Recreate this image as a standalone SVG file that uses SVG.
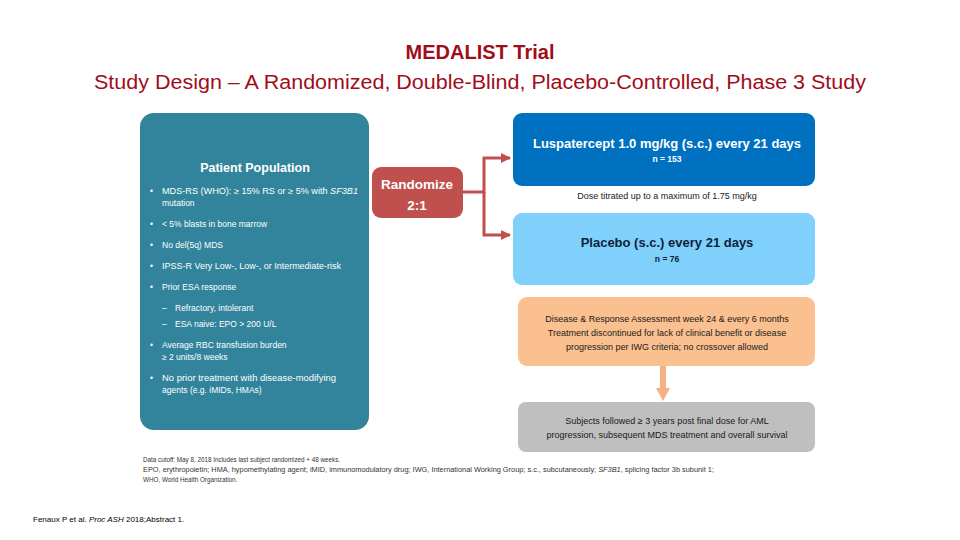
<svg xmlns="http://www.w3.org/2000/svg" width="960" height="540" viewBox="0 0 960 540">
<defs>
<style>
text{font-family:"Liberation Sans",Arial,sans-serif}
.title{fill:#A00D1A;font-size:20px}
.pp{fill:#ffffff;font-size:8.5px}
.hd{font-weight:bold;text-anchor:middle}
.sm{font-size:9px;text-anchor:middle;fill:#1a1a1a}
.fn{font-size:6.3px;fill:#333}
.conn{fill:none;stroke:#C0504D;stroke-width:3}
</style>
<marker id="ah" viewBox="0 0 10 10" refX="9" refY="5" markerWidth="3.4" markerHeight="3.4" orient="auto"><path d="M0,0 L10,5 L0,10 z" fill="#C0504D"/></marker>
</defs>
<rect width="960" height="540" fill="#ffffff"/>
<text class="title" x="480" y="59" text-anchor="middle" font-weight="bold">MEDALIST Trial</text>
<text class="title" x="480" y="89" text-anchor="middle" textLength="772" lengthAdjust="spacingAndGlyphs">Study Design – A Randomized, Double-Blind, Placebo-Controlled, Phase 3 Study</text>

<g id="patient-population">
<rect x="140" y="113" width="229" height="317" rx="14" fill="#31849B"/>
<text x="255" y="172" style="fill:#ffffff;font-size:12.5px;font-weight:bold;text-anchor:middle">Patient Population</text>
<g class="pp">
<text x="150" y="194">•</text><text x="162" y="194" textLength="196" lengthAdjust="spacingAndGlyphs">MDS-RS (WHO): ≥ 15% RS or ≥ 5% with <tspan font-style="italic">SF3B1</tspan></text>
<text x="162" y="206">mutation</text>
<text x="150" y="227">•</text><text x="162" y="227">&lt; 5% blasts in bone marrow</text>
<text x="150" y="248">•</text><text x="162" y="248">No del(5q) MDS</text>
<text x="150" y="269">•</text><text x="162" y="269" textLength="179" lengthAdjust="spacingAndGlyphs">IPSS-R Very Low-, Low-, or Intermediate-risk</text>
<text x="150" y="290">•</text><text x="162" y="290">Prior ESA response</text>
<text x="162" y="311">–</text><text x="175" y="311">Refractory, intolerant</text>
<text x="162" y="327">–</text><text x="175" y="327">ESA naive: EPO &gt; 200 U/L</text>
<text x="150" y="348">•</text><text x="162" y="348">Average RBC transfusion burden</text>
<text x="162" y="360">≥ 2 units/8 weeks</text>
<text x="150" y="381">•</text><text x="162" y="381" textLength="174" lengthAdjust="spacingAndGlyphs">No prior treatment with disease-modifying</text>
<text x="162" y="393">agents (e.g. iMIDs, HMAs)</text>
</g>
</g>

<g id="randomize">
<rect x="372" y="167" width="91" height="51" rx="9" fill="#C0504D"/>
<text class="hd" x="417" y="189" fill="#ffffff" font-size="13.5px">Randomize</text>
<text class="hd" x="417" y="210" fill="#ffffff" font-size="13.5px">2:1</text>
</g>

<g id="connectors">
<path class="conn" d="M463,192 H484 V158 H510" marker-end="url(#ah)"/>
<path class="conn" d="M484,192 V235 H510" marker-end="url(#ah)"/>
<path d="M663,366 V390" stroke="#F4B183" stroke-width="6" fill="none"/>
<path d="M656,388 L670,388 L663,401 z" fill="#F4B183"/>
</g>

<g id="luspatercept">
<rect x="513" y="113" width="302" height="73" rx="9" fill="#0070C0"/>
<text class="hd" x="667" y="148" fill="#ffffff" font-size="13px">Luspatercept 1.0 mg/kg (s.c.) every 21 days</text>
<text class="hd" x="667" y="162" fill="#ffffff" font-size="8.5px">n = 153</text>
</g>
<text class="sm" x="667" y="199">Dose titrated up to a maximum of 1.75 mg/kg</text>

<g id="placebo">
<rect x="513" y="213" width="302" height="72" rx="9" fill="#7FD0FA"/>
<text class="hd" x="667" y="247" fill="#0F1F3A" font-size="13px">Placebo (s.c.) every 21 days</text>
<text class="hd" x="667" y="262" fill="#0F1F3A" font-size="8.5px">n = 76</text>
</g>

<g id="assessment">
<rect x="518" y="297" width="297" height="69" rx="9" fill="#FAC090"/>
<text class="sm" x="667" y="322">Disease &amp; Response Assessment week 24 &amp; every 6 months</text>
<text class="sm" x="667" y="336">Treatment discontinued for lack of clinical benefit or disease</text>
<text class="sm" x="667" y="350">progression per IWG criteria; no crossover allowed</text>
</g>

<g id="follow-up">
<rect x="518" y="402" width="297" height="50" rx="8" fill="#BFBFBF"/>
<text class="sm" x="667" y="424">Subjects followed ≥ 3 years post final dose for AML</text>
<text class="sm" x="667" y="438">progression, subsequent MDS treatment and overall survival</text>
</g>

<g class="fn">
<text x="143" y="462">Data cutoff: May 8, 2018 Includes last subject randomized + 48 weeks.</text>
<text x="143" y="472" textLength="571" lengthAdjust="spacingAndGlyphs">EPO, erythropoietin; HMA, hypomethylating agent; iMID, immunomodulatory drug; IWG, International Working Group; s.c., subcutaneously; <tspan font-style="italic">SF3B1</tspan>, splicing factor 3b subunit 1;</text>
<text x="143" y="482">WHO, World Health Organization.</text>
</g>
<text x="33" y="522" font-size="8px" fill="#000">Fenaux P et al. <tspan font-style="italic">Proc ASH</tspan> 2018;Abstract 1.</text>
</svg>
